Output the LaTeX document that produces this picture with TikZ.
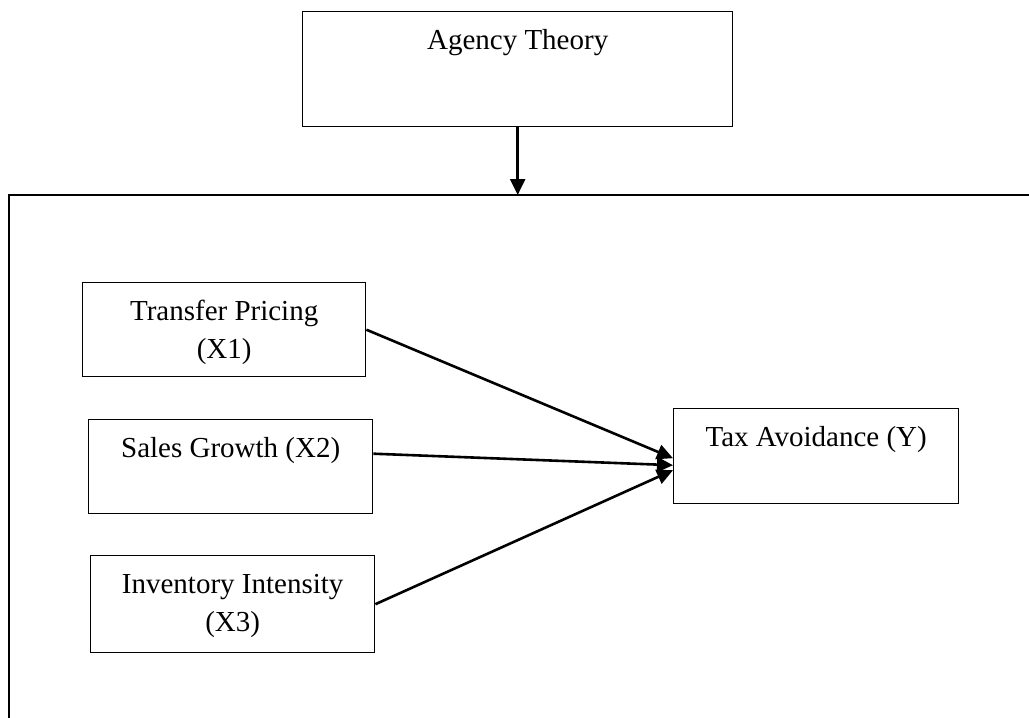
\documentclass[tikz,border=0pt]{standalone}
\usepackage{fontspec}
\setmainfont{Liberation Serif}
\usetikzlibrary{arrows.meta}

\tikzset{
	box/.style={draw, line width=0.7pt, inner sep=0pt, anchor=north west},
	arr/.style={line width=1.3pt, -{Triangle[length=8pt,width=7.5pt]}},
	frame/.style={line width=0.9pt}
}
% box text, top aligned: {height}{width}{text}
\newcommand{\boxtxt}[3]{\parbox[t][#1][t]{#2}{\centering\rule{0pt}{19pt}#3}}

\begin{document}
\begin{tikzpicture}[x=1pt, y=1pt]
	\fontsize{14.5}{19}\selectfont
	\useasboundingbox (0,0) rectangle (514.5,-359);
	% outer frame, open at right and bottom
	\coordinate (ftl) at (4.5,-97.5);
	\draw[frame] (4.5,-362) -- (ftl) -- (518,-97.5);
	% boxes
	\node[box] (agency) at (151,-5.5) {\boxtxt{57.5pt}{215pt}{Agency Theory}};
	\node[box] (transfer) at (41,-141) {\boxtxt{47pt}{141.5pt}{Transfer Pricing\\(X1)}};
	\node[box] (sales) at (44,-209.5) {\boxtxt{47pt}{142pt}{Sales Growth (X2)}};
	\node[box] (inventory) at (45,-277.5) {\boxtxt{48.5pt}{142pt}{Inventory Intensity\\(X3)}};
	\node[box] (tax) at (336.5,-204) {\boxtxt{47.5pt}{142.5pt}{Tax Avoidance (Y)}};
	% arrows
	\draw[arr] (agency.south) -- (agency.south |- ftl);
	\draw[arr] (transfer.east) -- ([yshift=-1pt]tax.west);
	\draw[arr] ([yshift=6.5pt]sales.east) -- ([yshift=-4.5pt]tax.west);
	\draw[arr] (inventory.east) -- ([yshift=-7pt]tax.west);
\end{tikzpicture}
\end{document}
